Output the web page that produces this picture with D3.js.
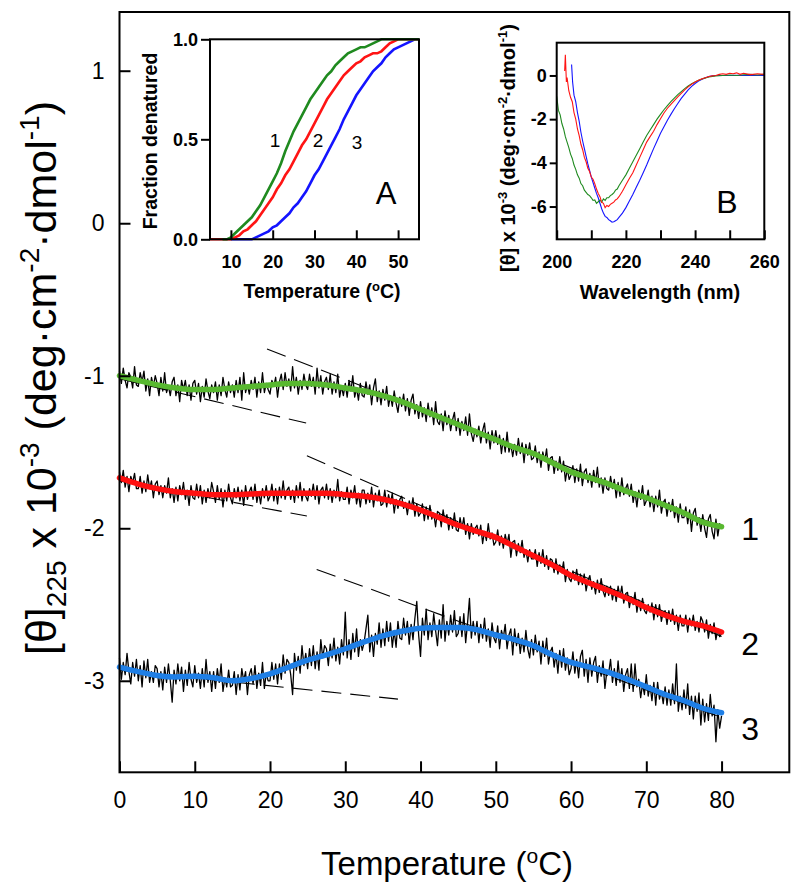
<!DOCTYPE html>
<html><head><meta charset="utf-8">
<script src="https://cdn.jsdelivr.net/npm/d3@7"></script>
<style>body{margin:0;background:#fff}svg{display:block;font-family:"Liberation Sans",Arial,sans-serif}</style>
</head><body><svg id="c" width="800" height="891"></svg>
<script>
// ---------- main panel data ----------
const tempStep = 0.25; // raw traces sampled every 0.25 °C from 0 to 80
const trace1 = [
-0.97,-1.05,-0.95,-1.03,-1.08,-0.98,-1.01,-1.08,-0.94,-1.06,
-1.07,-0.98,-1.04,-0.97,-1.10,-1.02,-1.13,-1.01,-1.07,-1.00,
-1.05,-1.13,-1.01,-1.10,-0.98,-1.11,-1.07,-1.13,-1.04,-1.01,
-1.13,-1.06,-1.17,-1.03,-1.09,-1.03,-1.13,-1.06,-1.16,-1.05,
-1.03,-1.12,-1.05,-1.17,-1.07,-1.14,-1.02,-1.10,-1.15,-1.06,
-1.11,-1.04,-1.16,-1.06,-1.13,-1.01,-1.09,-1.14,-1.04,-1.11,
-1.06,-1.14,-1.03,-1.11,-1.01,-1.16,-0.98,-1.11,-1.06,-1.12,
-1.03,-1.09,-1.01,-1.14,-1.04,-1.11,-0.98,-1.11,-1.05,-1.09,
-1.12,-1.03,-1.07,-1.01,-1.14,-1.04,-0.99,-1.09,-0.98,-1.07,
-1.02,-1.10,-0.94,-1.08,-1.01,-1.12,-1.03,-1.09,-0.99,-1.06,
-1.09,-0.99,-1.07,-1.01,-1.12,-0.95,-1.08,-1.00,-1.12,-1.04,
-1.01,-1.09,-0.99,-1.12,-1.04,-1.11,-0.99,-1.14,-1.07,-1.13,
-1.05,-1.14,-1.03,-1.10,-1.00,-1.14,-1.08,-1.16,-1.05,-1.13,
-1.14,-1.04,-1.12,-1.06,-1.19,-1.08,-1.02,-1.17,-1.10,-1.19,
-1.09,-1.16,-1.07,-1.20,-1.13,-1.20,-1.10,-1.18,-1.24,-1.14,
-1.20,-1.12,-1.23,-1.15,-1.26,-1.16,-1.12,-1.25,-1.19,-1.28,
-1.17,-1.27,-1.21,-1.30,-1.18,-1.27,-1.21,-1.32,-1.17,-1.30,
-1.32,-1.25,-1.36,-1.23,-1.32,-1.26,-1.36,-1.29,-1.24,-1.36,
-1.28,-1.39,-1.30,-1.36,-1.27,-1.39,-1.25,-1.38,-1.43,-1.35,
-1.40,-1.33,-1.44,-1.36,-1.31,-1.44,-1.37,-1.48,-1.36,-1.44,
-1.36,-1.45,-1.39,-1.51,-1.41,-1.50,-1.37,-1.50,-1.45,-1.53,
-1.45,-1.52,-1.41,-1.51,-1.44,-1.57,-1.45,-1.52,-1.44,-1.55,
-1.54,-1.46,-1.57,-1.50,-1.60,-1.50,-1.56,-1.48,-1.62,-1.54,
-1.53,-1.64,-1.56,-1.62,-1.53,-1.63,-1.56,-1.69,-1.61,-1.68,
-1.65,-1.59,-1.70,-1.61,-1.69,-1.58,-1.72,-1.63,-1.61,-1.70,
-1.64,-1.73,-1.62,-1.70,-1.60,-1.73,-1.67,-1.77,-1.67,-1.74,
-1.75,-1.66,-1.74,-1.68,-1.80,-1.70,-1.79,-1.67,-1.78,-1.74,
-1.71,-1.79,-1.71,-1.83,-1.76,-1.86,-1.75,-1.81,-1.72,-1.85,
-1.82,-1.75,-1.86,-1.79,-1.89,-1.79,-1.86,-1.75,-1.90,-1.83,
-1.81,-1.92,-1.83,-1.89,-1.81,-1.93,-1.86,-1.96,-1.84,-1.93,
-1.93,-1.86,-1.97,-1.88,-2.02,-1.90,-1.87,-1.98,-1.93,-2.02,
-1.91,-2.00,-2.06,-1.94,-1.91,-2.02,-2.07,-1.94,-2.05,-1.97,
-2.00];
const trace2 = [
-1.63,-1.70,-1.62,-1.73,-1.66,-1.76,-1.66,-1.70,-1.64,-1.74,
-1.74,-1.66,-1.77,-1.69,-1.76,-1.65,-1.74,-1.69,-1.80,-1.71,
-1.69,-1.78,-1.72,-1.80,-1.72,-1.77,-1.67,-1.80,-1.74,-1.83,
-1.73,-1.82,-1.72,-1.78,-1.70,-1.81,-1.75,-1.85,-1.72,-1.80,
-1.81,-1.71,-1.80,-1.72,-1.84,-1.75,-1.83,-1.74,-1.80,-1.70,
-1.76,-1.83,-1.72,-1.81,-1.74,-1.86,-1.75,-1.82,-1.71,-1.80,
-1.84,-1.74,-1.80,-1.73,-1.82,-1.75,-1.85,-1.72,-1.81,-1.76,
-1.73,-1.81,-1.71,-1.83,-1.76,-1.84,-1.74,-1.80,-1.72,-1.82,
-1.79,-1.71,-1.82,-1.74,-1.84,-1.73,-1.80,-1.69,-1.81,-1.75,
-1.73,-1.81,-1.75,-1.83,-1.72,-1.80,-1.70,-1.82,-1.74,-1.79,
-1.82,-1.74,-1.79,-1.71,-1.81,-1.72,-1.84,-1.75,-1.73,-1.80,
-1.71,-1.81,-1.74,-1.83,-1.75,-1.80,-1.68,-1.82,-1.76,-1.81,
-1.81,-1.73,-1.84,-1.75,-1.80,-1.72,-1.84,-1.77,-1.86,-1.75,
-1.75,-1.84,-1.77,-1.83,-1.73,-1.86,-1.77,-1.82,-1.75,-1.85,
-1.84,-1.75,-1.86,-1.78,-1.84,-1.77,-1.90,-1.81,-1.87,-1.81,
-1.79,-1.87,-1.83,-1.91,-1.82,-1.87,-1.80,-1.92,-1.84,-1.92,
-1.90,-1.84,-1.95,-1.86,-1.94,-1.85,-1.94,-1.90,-1.99,-1.89,
-1.90,-1.99,-1.88,-1.96,-1.91,-2.01,-1.93,-2.00,-1.90,-2.01,
-2.02,-1.93,-2.00,-1.93,-2.04,-1.97,-2.07,-1.97,-2.04,-2.00,
-1.98,-2.05,-1.98,-2.10,-2.02,-2.08,-1.97,-2.07,-2.03,-2.11,
-2.09,-2.01,-2.11,-2.05,-2.13,-2.04,-2.10,-2.04,-2.19,-2.09,
-2.08,-2.18,-2.10,-2.16,-2.08,-2.19,-2.14,-2.22,-2.14,-2.20,
-2.20,-2.14,-2.25,-2.16,-2.23,-2.14,-2.25,-2.18,-2.27,-2.20,
-2.21,-2.29,-2.20,-2.30,-2.24,-2.29,-2.22,-2.35,-2.27,-2.33,
-2.35,-2.28,-2.34,-2.27,-2.37,-2.30,-2.37,-2.30,-2.41,-2.34,
-2.31,-2.40,-2.35,-2.43,-2.34,-2.42,-2.33,-2.41,-2.45,-2.38,
-2.44,-2.38,-2.47,-2.40,-2.48,-2.38,-2.45,-2.38,-2.49,-2.43,
-2.42,-2.52,-2.45,-2.50,-2.42,-2.55,-2.47,-2.54,-2.46,-2.54,
-2.56,-2.50,-2.55,-2.49,-2.60,-2.50,-2.58,-2.50,-2.61,-2.55,
-2.54,-2.63,-2.54,-2.61,-2.53,-2.63,-2.57,-2.67,-2.57,-2.64,
-2.64,-2.57,-2.68,-2.59,-2.64,-2.57,-2.67,-2.61,-2.68,-2.58,
-2.61,-2.68,-2.60,-2.72,-2.63,-2.69,-2.62,-2.73,-2.66,-2.71,
-2.69];
const trace3 = [
-2.85,-2.99,-2.88,-2.96,-2.82,-2.94,-3.02,-2.88,-2.97,-2.86,
-3.00,-2.90,-3.04,-2.87,-2.98,-2.86,-3.01,-2.94,-3.01,-2.90,
-2.92,-3.04,-2.94,-3.06,-2.91,-3.01,-2.89,-3.00,-3.14,-2.93,
-3.02,-2.89,-3.00,-2.91,-3.07,-2.93,-3.03,-2.88,-2.99,-3.04,
-2.90,-3.01,-2.95,-3.05,-2.92,-3.04,-2.86,-3.01,-2.94,-3.07,
-2.94,-3.05,-2.92,-3.01,-2.89,-3.07,-2.98,-3.04,-2.93,-3.04,
-3.03,-2.94,-3.09,-2.96,-3.06,-2.92,-3.00,-2.94,-3.09,-2.96,
-2.92,-3.02,-2.90,-3.05,-2.95,-3.03,-2.88,-3.05,-2.95,-3.00,
-3.00,-2.88,-2.99,-2.89,-3.02,-2.89,-2.99,-2.83,-2.95,-2.86,
-2.88,-2.96,-3.09,-2.82,-2.93,-2.84,-2.95,-2.77,-2.90,-2.82,
-2.92,-2.79,-2.90,-2.77,-2.92,-2.81,-2.93,-2.73,-2.85,-2.77,
-2.79,-2.90,-2.76,-2.85,-2.72,-2.87,-2.78,-2.89,-2.73,-2.83,
-2.55,-2.85,-2.73,-2.86,-2.69,-2.81,-2.66,-2.84,-2.73,-2.80,
-2.75,-2.66,-2.57,-2.81,-2.70,-2.84,-2.69,-2.76,-2.62,-2.78,
-2.66,-2.77,-2.61,-2.74,-2.62,-2.78,-2.67,-2.78,-2.61,-2.72,
-2.73,-2.59,-2.70,-2.61,-2.76,-2.63,-2.73,-2.59,-2.48,-2.70,
-2.84,-2.59,-2.70,-2.53,-2.73,-2.62,-2.71,-2.56,-2.67,-2.77,
-2.60,-2.72,-2.50,-2.74,-2.61,-2.70,-2.57,-2.68,-2.54,-2.71,
-2.69,-2.58,-2.71,-2.56,-2.75,-2.62,-2.46,-2.72,-2.61,-2.70,
-2.61,-2.75,-2.63,-2.72,-2.59,-2.74,-2.66,-2.78,-2.62,-2.72,
-2.75,-2.64,-2.79,-2.67,-2.72,-2.63,-2.79,-2.70,-2.66,-2.83,
-2.66,-2.77,-2.69,-2.82,-2.72,-2.81,-2.67,-2.79,-2.85,-2.73,
-2.83,-2.70,-2.81,-2.74,-2.89,-2.74,-2.84,-2.72,-2.89,-2.81,
-2.78,-2.91,-2.82,-2.95,-2.80,-2.91,-2.79,-2.93,-2.85,-2.96,
-2.92,-2.81,-2.95,-2.86,-2.98,-2.84,-2.80,-2.97,-2.86,-3.01,
-2.85,-2.97,-2.88,-2.84,-3.01,-2.90,-2.97,-2.87,-3.05,-2.94,
-2.95,-2.86,-3.01,-2.92,-3.03,-2.87,-3.01,-2.92,-3.07,-2.96,
-2.92,-3.05,-2.89,-3.07,-2.89,-3.04,-2.99,-3.11,-3.02,-3.09,
-2.96,-3.10,-3.03,-3.13,-3.01,-3.16,-3.01,-3.12,-3.07,-3.15,
-3.04,-3.16,-3.06,-3.16,-3.02,-3.15,-2.89,-3.20,-3.10,-3.19,
-3.06,-3.18,-3.02,-3.22,-3.10,-3.25,-3.10,-3.20,-3.08,-3.29,
-3.12,-3.27,-3.15,-3.26,-3.09,-3.23,-3.16,-3.40,-3.19,-3.31,
-3.23];
const fitTemps = [0,2.5,5,7.5,10,12.5,15,17.5,20,22.5,25,27.5,30,32.5,35,37.5,40,42.5,45,47.5,50,52.5,55,57.5,60,62.5,65,67.5,70,72.5,75,77.5,80];
const fit1 = [-1.00,-1.03,-1.06,-1.08,-1.09,-1.09,-1.08,-1.07,-1.06,-1.05,-1.05,-1.06,-1.08,-1.10,-1.13,-1.17,-1.22,-1.27,-1.32,-1.37,-1.42,-1.47,-1.51,-1.57,-1.63,-1.67,-1.71,-1.76,-1.80,-1.85,-1.90,-1.96,-1.99];
const fit2 = [-1.67,-1.71,-1.74,-1.76,-1.77,-1.78,-1.78,-1.775,-1.77,-1.77,-1.77,-1.77,-1.78,-1.79,-1.81,-1.84,-1.88,-1.93,-1.98,-2.02,-2.06,-2.12,-2.18,-2.24,-2.31,-2.36,-2.41,-2.46,-2.52,-2.57,-2.61,-2.64,-2.68];
const fit3 = [-2.91,-2.94,-2.965,-2.975,-2.97,-2.98,-3.00,-2.985,-2.955,-2.91,-2.865,-2.83,-2.79,-2.745,-2.705,-2.675,-2.655,-2.65,-2.65,-2.665,-2.70,-2.73,-2.77,-2.83,-2.88,-2.91,-2.945,-2.99,-3.04,-3.09,-3.13,-3.18,-3.21];
// baseline extrapolations (dashed): [temperature, value] end points
const dash1Pre = [[0,-1.02],[24.8,-1.31]];
const dash1Post = [[19.6,-0.824],[80,-1.99]];
const dash2Pre = [[0,-1.69],[24.9,-1.92]];
const dash2Post = [[24.9,-1.525],[80,-2.71]];
const dash3Pre = [[0,-2.93],[37,-3.12]];
const dash3Post = [[26.2,-2.27],[80,-3.24]];
const mainXTicks = [0,10,20,30,40,50,60,70,80];
const mainYTicks = [-3,-2,-1,0,1];
const curveLabels = ["1","2","3"];

// ---------- inset A data ----------
const aTemps1 = [8,9,10,11,12,13,14,15,16,17,18,19,20,21,22,23,24,25,26,27,28,29,30,31,32,33,34,35,36,37,38,39,40,41,42,43,44,45,46,47,50,55];
const aFrac1 = [0,0,0.01,0.03,0.05,0.07,0.09,0.11,0.14,0.17,0.21,0.25,0.29,0.33,0.38,0.44,0.49,0.54,0.58,0.62,0.66,0.70,0.73,0.76,0.79,0.82,0.84,0.87,0.89,0.91,0.93,0.94,0.95,0.96,0.96,0.97,0.98,0.99,1.0,1.0,1.0,1.0];
const aTemps2 = [5,6,7,8,9,10,11,12,13,14,15,16,17,18,19,20,21,22,23,24,25,26,27,28,29,30,31,32,33,34,35,36,37,38,39,40,41,42,43,44,45,46,47,48,49,50,55];
const aFrac2 = [0,0,0,0,0,0,0.01,0.02,0.04,0.05,0.07,0.09,0.12,0.15,0.18,0.21,0.25,0.28,0.32,0.35,0.39,0.43,0.47,0.50,0.54,0.58,0.62,0.66,0.70,0.73,0.76,0.79,0.82,0.84,0.86,0.88,0.89,0.91,0.92,0.93,0.93,0.94,0.96,0.98,0.99,1.0,1.0];
const aTemps3 = [10,11,12,13,14,15,16,17,18,19,20,21,22,23,24,25,26,27,28,29,30,31,32,33,34,35,36,37,38,39,40,41,42,43,44,45,46,47,48,49,50,51,52,53,54,55];
const aFrac3 = [0,0,0,0,0,0,0.01,0.02,0.03,0.04,0.06,0.07,0.09,0.11,0.13,0.16,0.18,0.21,0.24,0.28,0.32,0.35,0.39,0.43,0.47,0.51,0.55,0.60,0.64,0.68,0.72,0.75,0.78,0.81,0.84,0.86,0.88,0.91,0.93,0.95,0.96,0.97,0.98,0.99,1.0,1.0];
const aXTicks = [10,20,30,40,50];
const aYTicks = [0,0.5,1.0];

// ---------- inset B data ----------
const bWave1 = [200,200.5,201,201.5,202,202.5,203,203.5,204,204.5,205,205.5,206,206.5,207,207.5,208,208.5,209,209.5,210,210.5,211,211.5,212,212.5,213,213.5,214,214.5,215,215.5,216,216.5,217,217.5,218,219,220,221,222,223,224,225,226,227,228,229,230,231,232,233,234,235,236,237,238,239,240,241,242,243,244,245,246,247,248,250,252,254,256,258,260];
const bTheta1 = [-0.95,-1.6,-1.8,-2.2,-2.45,-2.8,-3.05,-3.3,-3.6,-3.8,-4.1,-4.3,-4.55,-4.7,-4.95,-5.05,-5.25,-5.35,-5.45,-5.5,-5.6,-5.72,-5.7,-5.85,-5.78,-5.7,-5.8,-5.65,-5.72,-5.6,-5.6,-5.5,-5.45,-5.38,-5.25,-5.2,-5.05,-4.8,-4.55,-4.25,-3.95,-3.65,-3.35,-3.05,-2.75,-2.5,-2.25,-2.0,-1.78,-1.57,-1.38,-1.2,-1.04,-0.88,-0.74,-0.6,-0.48,-0.38,-0.3,-0.22,-0.16,-0.11,-0.07,-0.04,-0.02,-0.01,0.0,0.02,0.0,0.03,0.05,0.02,0.05];
const bWave2 = [202.3,202.5,202.8,203,203.5,204,204.5,205,205.5,206,206.5,207,207.5,208,208.5,209,209.5,210,210.5,211,211.5,212,212.5,213,213.5,214,214.5,215,215.5,216,216.5,217,217.5,218,219,220,221,222,223,224,225,226,227,228,229,230,231,232,233,234,235,236,237,238,239,240,241,242,243,244,245,246,247,248,249,250,251,252,253,254,256,258,260];
const bTheta2 = [0.2,0.95,-0.3,-0.1,-0.7,-1.0,-1.2,-1.7,-2.0,-2.45,-2.75,-3.15,-3.4,-3.75,-3.95,-4.25,-4.4,-4.65,-4.75,-4.95,-5.2,-5.4,-5.55,-5.8,-5.85,-6.05,-5.95,-6.0,-5.9,-5.85,-5.8,-5.7,-5.65,-5.55,-5.3,-5.0,-4.72,-4.45,-4.1,-3.75,-3.4,-3.05,-2.8,-2.55,-2.25,-1.98,-1.72,-1.5,-1.32,-1.15,-0.98,-0.82,-0.66,-0.52,-0.4,-0.3,-0.22,-0.15,-0.1,-0.05,-0.02,0.0,0.05,0.08,0.05,0.1,0.08,0.12,0.05,0.1,0.04,0.08,0.05];
const bWave3 = [204.3,204.6,205,205.5,206,206.5,207,207.5,208,208.5,209,209.5,210,210.5,211,211.5,212,212.5,213,213.5,214,214.5,215,215.5,216,216.5,217,217.5,218,219,220,221,222,223,224,225,226,227,228,229,230,231,232,233,234,235,236,237,238,239,240,241,242,243,244,245,246,248,250,252,254,256,258,260];
const bTheta3 = [0.5,-0.3,-0.9,-1.2,-1.7,-2.1,-2.6,-3.0,-3.35,-3.7,-4.05,-4.35,-4.65,-4.9,-5.15,-5.4,-5.6,-5.85,-6.1,-6.3,-6.45,-6.5,-6.6,-6.65,-6.72,-6.7,-6.65,-6.6,-6.5,-6.3,-6.05,-5.75,-5.45,-5.12,-4.8,-4.45,-4.1,-3.72,-3.35,-3.0,-2.65,-2.35,-2.05,-1.78,-1.52,-1.28,-1.05,-0.85,-0.66,-0.5,-0.37,-0.26,-0.17,-0.1,-0.05,-0.02,0.0,0.0,0.0,0.01,0.0,0.0,0.0,0.0];
const bXTicks = [200,220,240,260];
const bXMinor = [210,230,250];
const bYTicks = [-6,-4,-2,0];

// ---------- drawing ----------
const svg = d3.select("#c");
const x = d3.scaleLinear([0, 89], [119.5, 789.3]);
const y = d3.scaleLinear([-3.6, 1.385], [772.3, 12]);

const mainCol = {g:"#58b830", r:"#ff1010", b:"#1f7fe6"};
const insetCol = {g:"#1f8a1f", r:"#ff1414", b:"#1414ff"};
const FONT = "'Liberation Sans',Arial,sans-serif";

// dashed baselines
[dash1Pre,dash1Post,dash2Pre,dash2Post,dash3Pre,dash3Post].forEach(seg => {
  svg.append("path").attr("d", d3.line().x(d=>x(d[0])).y(d=>y(d[1]))(seg))
    .attr("fill","none").attr("stroke","#000").attr("stroke-width",1.1).attr("stroke-dasharray","20,9");
});
// raw traces
const rawLine = d3.line().x((d,i)=>x(i*tempStep)).y(d=>y(d));
[trace1,trace2,trace3].forEach(tr => {
  svg.append("path").attr("d", rawLine(tr)).attr("fill","none").attr("stroke","#000").attr("stroke-width",1.3).attr("stroke-linejoin","round");
});
// fits
const fitLine = d3.line().x((d,i)=>x(fitTemps[i])).y(d=>y(d)).curve(d3.curveMonotoneX);
[[fit1,mainCol.g],[fit2,mainCol.r],[fit3,mainCol.b]].forEach(([f,c]) => {
  svg.append("path").attr("d", fitLine(f)).attr("fill","none").attr("stroke",c).attr("stroke-width",5.5).attr("stroke-linecap","round");
});

// main axes
const gx = svg.append("g").attr("transform","translate(0,772.3)")
  .call(d3.axisBottom(x).tickValues(mainXTicks).tickSize(-11).tickPadding(19).tickFormat(d=>String(d)));
const gy = svg.append("g").attr("transform","translate(119.5,0)")
  .call(d3.axisLeft(y).tickValues(mainYTicks).tickSize(-11).tickPadding(15).tickFormat(d=>String(d)));
[gx,gy].forEach(g => {
  g.select(".domain").remove();
  g.selectAll(".tick line").attr("stroke","#000").attr("stroke-width",2);
  g.selectAll(".tick text").attr("fill","#000").attr("font-size",23).attr("font-family",FONT);
});
svg.append("rect").attr("x",119.5).attr("y",12).attr("width",789.3-119.5).attr("height",772.3-12)
  .attr("fill","none").attr("stroke","#000").attr("stroke-width",2);

// curve labels (placed beside the end of each fit)
const labelEnds = [fit1[fit1.length-1], fit2[fit2.length-1], fit3[fit3.length-1]];
const labelShift = [13.5, 23, 27.5];
curveLabels.forEach((t,i) => {
  svg.append("text").attr("x", x(83.8)).attr("y", y(labelEnds[i]) + labelShift[i])
    .attr("text-anchor","middle").attr("font-size",32).text(t);
});

// main axis titles
svg.append("text").attr("x",447).attr("y",875).attr("text-anchor","middle").attr("font-size",33)
  .call(t => { t.append("tspan").text("Temperature ("); t.append("tspan").attr("font-size",21).attr("baseline-shift",12).text("o"); t.append("tspan").text("C)"); });
const yt = svg.append("text").attr("transform","translate(56,378) rotate(-90)").attr("text-anchor","middle").attr("font-size",43);
yt.append("tspan").text("[θ]");
yt.append("tspan").attr("font-size",28).attr("baseline-shift",-10).text("225");
yt.append("tspan").text(" x 10");
yt.append("tspan").attr("font-size",28).attr("baseline-shift",17).text("-3");
yt.append("tspan").text(" (deg·cm");
yt.append("tspan").attr("font-size",28).attr("baseline-shift",17).text("-2");
yt.append("tspan").text("·dmol");
yt.append("tspan").attr("font-size",28).attr("baseline-shift",17).text("-1");
yt.append("tspan").text(")");

// ---------- inset A ----------
const xA = d3.scaleLinear([5,55],[210,419]);
const yA = d3.scaleLinear([0,1],[239.3,39.3]);
const lineA = (ts) => d3.line().x((d,i)=>xA(ts[i])).y(d=>yA(d));
svg.append("path").attr("d", lineA(aTemps3)(aFrac3)).attr("fill","none").attr("stroke",insetCol.b).attr("stroke-width",2.6);
svg.append("path").attr("d", lineA(aTemps2)(aFrac2)).attr("fill","none").attr("stroke",insetCol.r).attr("stroke-width",2.6);
svg.append("path").attr("d", lineA(aTemps1)(aFrac1)).attr("fill","none").attr("stroke",insetCol.g).attr("stroke-width",2.6);
const gAx = svg.append("g").attr("transform","translate(0,239.3)")
  .call(d3.axisBottom(xA).tickValues(aXTicks).tickSize(-9).tickPadding(16).tickFormat(d=>String(d)));
const gAy = svg.append("g").attr("transform","translate(210,0)")
  .call(d3.axisLeft(yA).tickValues(aYTicks).tickSize(9).tickPadding(3).tickFormat(d3.format(".1f")));
// ---------- inset B ----------
const xB = d3.scaleLinear([200,260],[556.7,764.3]);
const yB = d3.scaleLinear([-7.5,1.5],[239.3,42.7]);
const lineB = (ws) => d3.line().x((d,i)=>xB(ws[i])).y(d=>yB(d));
svg.append("path").attr("d", lineB(bWave3)(bTheta3)).attr("fill","none").attr("stroke",insetCol.b).attr("stroke-width",1.1);
svg.append("path").attr("d", lineB(bWave1)(bTheta1)).attr("fill","none").attr("stroke",insetCol.g).attr("stroke-width",1.1);
svg.append("path").attr("d", lineB(bWave2)(bTheta2)).attr("fill","none").attr("stroke",insetCol.r).attr("stroke-width",1.1);
const gBx = svg.append("g").attr("transform","translate(0,239.3)")
  .call(d3.axisBottom(xB).tickValues(bXTicks).tickSize(-9).tickPadding(16).tickFormat(d=>String(d)));
const gBm = svg.append("g").attr("transform","translate(0,239.3)")
  .call(d3.axisBottom(xB).tickValues(bXMinor).tickSize(-9).tickFormat(""));
const gBy = svg.append("g").attr("transform","translate(556.7,0)")
  .call(d3.axisLeft(yB).tickValues(bYTicks).tickSize(7).tickPadding(3).tickFormat(d=>String(d)));
[gAx,gAy,gBx,gBm,gBy].forEach(g => {
  g.select(".domain").remove();
  g.selectAll(".tick line").attr("stroke","#000").attr("stroke-width",2);
  g.selectAll(".tick text").attr("fill","#000").attr("font-size",18).attr("font-weight","bold").attr("font-family",FONT);
});
svg.append("rect").attr("x",210).attr("y",39.3).attr("width",419-210).attr("height",200)
  .attr("fill","none").attr("stroke","#000").attr("stroke-width",2);
svg.append("rect").attr("x",556.7).attr("y",42.7).attr("width",764.3-556.7).attr("height",239.3-42.7)
  .attr("fill","none").attr("stroke","#000").attr("stroke-width",2);

// inset labels
[["1",275],["2",318],["3",357]].forEach(([t,xx],i) => {
  svg.append("text").attr("x",xx).attr("y",147+(i==2?2:0)).attr("text-anchor","middle").attr("font-size",19).text(t);
});
svg.append("text").attr("x",386).attr("y",204).attr("text-anchor","middle").attr("font-size",31).text("A");
svg.append("text").attr("x",727).attr("y",213).attr("text-anchor","middle").attr("font-size",32).text("B");
svg.append("text").attr("x",322).attr("y",298).attr("text-anchor","middle").attr("font-size",19.5).attr("font-weight","bold")
  .call(t => { t.append("tspan").text("Temperature ("); t.append("tspan").attr("font-size",13).attr("baseline-shift",7).text("o"); t.append("tspan").text("C)"); });
svg.append("text").attr("transform","translate(157,141) rotate(-90)").attr("text-anchor","middle").attr("font-size",19.5).attr("font-weight","bold").text("Fraction denatured");
svg.append("text").attr("x",660).attr("y",299).attr("text-anchor","middle").attr("font-size",20).attr("font-weight","bold").text("Wavelength (nm)");
const bt = svg.append("text").attr("transform","translate(515,148) rotate(-90)").attr("text-anchor","middle").attr("font-size",20).attr("font-weight","bold");
bt.append("tspan").text("[θ] x 10");
bt.append("tspan").attr("font-size",13).attr("baseline-shift",8).text("-3");
bt.append("tspan").text(" (deg·cm");
bt.append("tspan").attr("font-size",13).attr("baseline-shift",8).text("-2");
bt.append("tspan").text("·dmol");
bt.append("tspan").attr("font-size",13).attr("baseline-shift",8).text("-1");
bt.append("tspan").text(")");
</script></body></html>
